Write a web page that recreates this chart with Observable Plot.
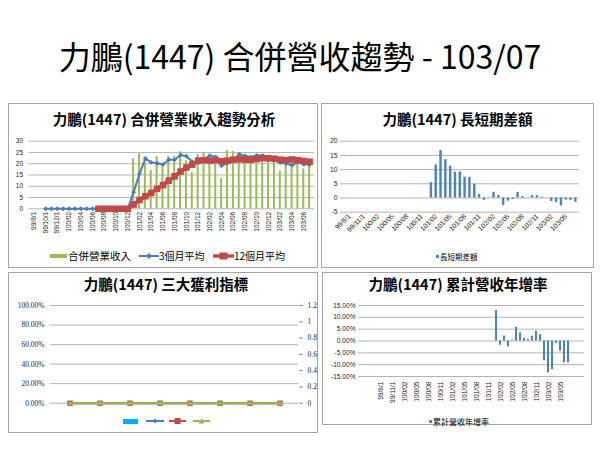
<!DOCTYPE html>
<html><head><meta charset="utf-8">
<script src="https://cdn.jsdelivr.net/npm/d3@7"></script>
<script src="https://cdn.jsdelivr.net/npm/@observablehq/plot@0.6"></script>
<style>
html,body{margin:0;padding:0;background:#fff;}
#page{position:relative;width:600px;height:450px;overflow:hidden;font-family:"Noto Sans CJK TC","Noto Sans",sans-serif;color:#000;}
.panel{position:absolute;border:1px solid #a6a6a6;box-sizing:border-box;}
.ttl{position:absolute;text-align:center;white-space:nowrap;line-height:1;}
.pt{font-size:14.5px;font-weight:bold;}
.lg{position:absolute;white-space:nowrap;line-height:1;}
.chart{position:absolute;}
</style></head><body><div id="page"></div>
<script>
// ---------- data ----------
const months = ["99/8/1","99/9/1","99/10/1","99/11/1","99/12/1",
  "100/01","100/02","100/03","100/04","100/05","100/06","100/07","100/08","100/09","100/10","100/11","100/12",
  "101/01","101/02","101/03","101/04","101/05","101/06","101/07","101/08","101/09","101/10","101/11","101/12",
  "102/01","102/02","102/03","102/04","102/05","102/06","102/07","102/08","102/09","102/10","102/11","102/12",
  "103/01","103/02","103/03","103/04","103/05","103/06","103/07"];
// 合併營業收入
const revenue = [0,0,0,0,0, 0,0,0,0,0,0,0,0,0,0,0,0,
  22.2,24.4,20.3,17.0,23.2,19.0,23.2,23.3,25.3,21.3,16.0,24.0,
  25.0,22.0,21.9,13.5,25.8,25.4,21.4,23.6,23.6,24.0,23.2,22.2,
  22.5,16.7,21.0,20.2,21.5,17.7,19.6];
// 3個月平均
const avg3 = [null,null,0,0,0, 0,0,0,0,0,0,0,0,0,0,0,0,
  7.4,15.5,22.3,20.6,20.2,19.7,21.8,21.8,23.9,23.3,20.9,20.4,
  21.7,23.7,23.0,19.1,20.4,21.6,24.2,23.5,22.9,23.7,23.6,23.1,
  22.6,20.5,20.1,19.3,20.9,19.8,19.6];
// 12個月平均
const avg12 = [null,null,null,null,null, null,null,null,null,null,null,0,0,0,0,0,0,
  1.9,3.9,5.6,7.0,8.9,10.5,12.5,14.4,16.5,18.3,19.6,21.4,
  21.6,21.4,21.6,21.1,21.4,21.8,22.0,21.8,21.8,22.1,22.5,22.4,
  22.2,21.8,21.6,21.9,21.6,21.2,20.9];
// 長短期差額
const spread = [null,null,null,null,null, null,null,null,null,null,null,null,null,null,null,null,null,
  5.4,11.6,16.7,13.5,11.2,9.1,9.2,7.3,7.3,4.9,1.2,-0.8,
  0.1,2.0,0.9,-2.6,-1.1,-0.5,2.0,0.5,0.0,0.8,0.8,0.3,
  0.0,-1.2,-1.6,-2.8,-0.7,-0.8,-1.5];
// 累計營收年增率 (%)
const yoy = [null,null,null,null,null, null,null,null,null,null,null,null,null,null,null,null,null,
  null,null,null,null,null,null,null,null,null,null,null,null,
  12.9,-1.8,2.1,-2.5,0.4,5.8,3.4,1.1,0.6,2.0,4.1,2.7,
  -8.4,-13.4,-12.1,-1.0,-4.3,-9.2,-9.2];
// 三大獲利指標
const quarters = ["Q1","Q2","Q3","Q4","Q5","Q6","Q7","Q8"];
const profitBar = [0,0,0,0,0,0,0,0];
const grossMargin = [0,0,0,0,0,0,0,0];
const opMargin = [0,0,0,0,0,0,0,0];
const netMargin = [0,0,0,0,0,0,0,0];

const p1YTicks = [0,5,10,15,20,25,30];
const p2YTicks = [-5,0,5,10,15,20];
const p3YTicks = [0,0.2,0.4,0.6,0.8,1];
const p3RightTicks = [0,0.2,0.4,0.6,0.8,1,1.2];
const p4YTicks = [-15,-10,-5,0,5,10,15];

const COL = {green:"#9BBB59", blue:"#4A7EBB", red:"#BE4B48", bar:"#4F81BD", cyan:"#00B0F0", green2:"#98B954"};
const tickFont = "'Liberation Sans', Arial, sans-serif";
const serifFont = "'Liberation Serif', 'Times New Roman', serif";

// ---------- helpers ----------
const page = document.getElementById("page");
function add(html) { page.insertAdjacentHTML("beforeend", html); }
function place(el, left, top) { el.classList.add("chart"); el.style.left = left + "px"; el.style.top = top + "px"; page.appendChild(el); }

// slide title
add(`<div class="ttl" style="left:0;top:39px;width:600px;font-size:32px;font-weight:400;">力鵬(1447) 合併營收趨勢 - 103/07</div>`);

// panels
add(`<div class="panel" style="left:8px;top:103px;width:310px;height:165px"></div>`);
add(`<div class="panel" style="left:321px;top:103px;width:273px;height:165px"></div>`);
add(`<div class="panel" style="left:8px;top:272px;width:310px;height:161px"></div>`);
add(`<div class="panel" style="left:322px;top:272px;width:270px;height:153px"></div>`);

add(`<div class="ttl pt" style="left:8px;top:112px;width:312px">力鵬(1447) 合併營業收入趨勢分析</div>`);
add(`<div class="ttl pt" style="left:321px;top:112px;width:273px">力鵬(1447) 長短期差額</div>`);
add(`<div class="ttl pt" style="left:8px;top:277px;width:316px">力鵬(1447) 三大獲利指標</div>`);
add(`<div class="ttl pt" style="left:322px;top:277px;width:272px">力鵬(1447) 累計營收年增率</div>`);

// ---------- panel 1 ----------
const rows1 = months.map((m, i) => ({month: m, revenue: revenue[i], avg3: avg3[i], avg12: avg12[i]}));
const p1 = Plot.plot({
  width: 310, height: 112,
  marginLeft: 20.5, marginRight: 4, marginTop: 10.7, marginBottom: 33.7,
  style: {fontFamily: tickFont, fontSize: "6.5px", color: "#262626", background: "none", overflow: "visible"},
  x: {type: "band", domain: months, padding: 0.66},
  y: {domain: [0, 30]},
  marks: [
    Plot.gridY(p1YTicks, {stroke: "#b5b5b5", strokeOpacity: 1}),
    Plot.axisY(p1YTicks, {tickSize: 0, tickPadding: 6, label: null}),
    Plot.axisX(months.filter((d, i) => i % 2 === 0), {tickSize: 0, tickPadding: 3, tickRotate: -90, label: null}),
    Plot.barY(rows1, {x: "month", y: "revenue", fill: COL.green}),
    Plot.line(rows1, {x: "month", y: "avg3", stroke: COL.blue, strokeWidth: 2}),
    Plot.dot(rows1, {x: "month", y: "avg3", symbol: "diamond2", r: 2.2, fill: COL.blue}),
    Plot.line(rows1, {x: "month", y: "avg12", stroke: COL.red, strokeWidth: 4}),
    Plot.dot(rows1, {x: "month", y: "avg12", symbol: "square2", r: 4.2, fill: COL.red})
  ]
});
place(p1, 8, 130);

add(`<div class="lg" style="left:50px;top:254px;width:17px;height:4px;background:${COL.green}"></div>`);
add(`<div class="lg" style="left:68px;top:250.5px;font-size:10.5px">合併營業收入</div>`);
add(`<svg class="lg" style="left:139px;top:252px" width="20" height="8"><line x1="0" y1="4" x2="20" y2="4" stroke="${COL.blue}" stroke-width="2"/><path d="M10 1L13 4L10 7L7 4Z" fill="${COL.blue}"/></svg>`);
add(`<div class="lg" style="left:159px;top:251px;font-size:10px">3個月平均</div>`);
add(`<svg class="lg" style="left:213px;top:252px" width="21" height="8"><line x1="0" y1="4" x2="21" y2="4" stroke="${COL.red}" stroke-width="3.5"/><rect x="6.5" y="0.5" width="8" height="7" fill="${COL.red}"/></svg>`);
add(`<div class="lg" style="left:234px;top:251px;font-size:10px">12個月平均</div>`);

// ---------- panel 2 ----------
const rows2 = months.map((m, i) => ({month: m, spread: spread[i]})).filter(d => d.spread != null);
const p2 = Plot.plot({
  width: 272, height: 100,
  marginLeft: 19, marginRight: 14, marginTop: 10.7, marginBottom: 18.3,
  style: {fontFamily: tickFont, fontSize: "6.8px", color: "#262626", background: "none", overflow: "visible"},
  x: {type: "band", domain: months, padding: 0.5, insetLeft: 5.4},
  y: {domain: [-5, 20]},
  marks: [
    Plot.gridY(p2YTicks, {stroke: "#b5b5b5", strokeOpacity: 1}),
    Plot.axisY(p2YTicks, {tickSize: 0, tickPadding: 3, tickFormat: d => String(d), label: null}),
    Plot.axisX(months.filter((d, i) => i % 3 === 0), {tickSize: 0, tickPadding: 3, tickRotate: -45, label: null}),
    Plot.barY(rows2, {x: "month", y: "spread", fill: COL.bar})
  ]
});
place(p2, 321, 130);
add(`<div class="lg" style="left:435.5px;top:255px;width:3px;height:3px;background:${COL.bar}"></div>`);
add(`<div class="lg" style="left:440px;top:252.5px;font-size:7.5px">長短期差額</div>`);

// ---------- panel 3 ----------
const rows3 = quarters.map((q, i) => ({q, bar: profitBar[i], gm: grossMargin[i], om: opMargin[i], nm: netMargin[i]}));
const p3 = Plot.plot({
  width: 310, height: 115,
  marginLeft: 42, marginRight: 20, marginTop: 10, marginBottom: 7.3,
  style: {fontFamily: serifFont, fontSize: "7.5px", color: "#262626", background: "none", overflow: "visible"},
  x: {type: "band", domain: quarters, axis: null},
  y: {domain: [0, 1]},
  marks: [
    Plot.gridY(p3YTicks, {stroke: "#b5b5b5", strokeOpacity: 1}),
    Plot.axisY(p3YTicks, {tickSize: 0, tickPadding: 6, tickFormat: d3.format(".2%"), label: null}),
    Plot.barY(rows3, {x: "q", y: "bar", fill: COL.cyan}),
    Plot.line(rows3, {x: "q", y: "gm", stroke: COL.blue, strokeWidth: 2}),
    Plot.dot(rows3, {x: "q", y: "gm", symbol: "diamond2", r: 2.2, fill: COL.blue}),
    Plot.line(rows3, {x: "q", y: "om", stroke: COL.red, strokeWidth: 2}),
    Plot.dot(rows3, {x: "q", y: "om", symbol: "square2", r: 3.4, fill: COL.red}),
    Plot.line(rows3, {x: "q", y: "nm", stroke: COL.green2, strokeWidth: 2}),
    Plot.dot(rows3, {x: "q", y: "nm", symbol: "triangle2", r: 2.8, fill: COL.green2})
  ]
});
place(p3, 8, 295);
const p3r = Plot.plot({
  width: 310, height: 115,
  marginLeft: 42, marginRight: 20, marginTop: 10, marginBottom: 7.3,
  style: {fontFamily: serifFont, fontSize: "7.5px", color: "#262626", background: "none", overflow: "visible"},
  y: {domain: [0, 1.2]},
  marks: [
    Plot.axisY(p3RightTicks, {anchor: "right", tickSize: 4, tickPadding: 5, tickFormat: d => String(d), label: null, stroke: "#8c8c8c"})
  ]
});
place(p3r, 8, 295);
add(`<div class="lg" style="left:123px;top:419px;width:15px;height:4.5px;background:${COL.cyan}"></div>`);
add(`<svg class="lg" style="left:145.5px;top:417px" width="18" height="8"><line x1="0" y1="4" x2="18" y2="4" stroke="${COL.blue}" stroke-width="2"/><path d="M9 1.5L11.5 4L9 6.5L6.5 4Z" fill="${COL.blue}"/></svg>`);
add(`<svg class="lg" style="left:169px;top:417px" width="17" height="8"><line x1="0" y1="4" x2="17" y2="4" stroke="${COL.red}" stroke-width="2"/><rect x="5.5" y="1" width="6" height="6" fill="${COL.red}"/></svg>`);
add(`<svg class="lg" style="left:192.5px;top:417px" width="17" height="8"><line x1="0" y1="4" x2="17" y2="4" stroke="${COL.green2}" stroke-width="2"/><path d="M8.5 1L11.5 6.5L5.5 6.5Z" fill="${COL.green2}"/></svg>`);

// ---------- panel 4 ----------
const rows4 = months.map((m, i) => ({month: m, yoy: yoy[i]})).filter(d => d.yoy != null);
const p4 = Plot.plot({
  width: 268, height: 110,
  marginLeft: 35, marginRight: 7, marginTop: 10, marginBottom: 29,
  style: {fontFamily: tickFont, fontSize: "6.6px", color: "#262626", background: "none", overflow: "visible"},
  x: {type: "band", domain: months, padding: 0.42, insetLeft: 5.6},
  y: {domain: [-15, 15]},
  marks: [
    Plot.gridY(p4YTicks, {stroke: "#b5b5b5", strokeOpacity: 1}),
    Plot.axisY(p4YTicks, {tickSize: 0, tickPadding: 3, tickFormat: d => d.toFixed(2) + "%", label: null}),
    Plot.axisX(months.filter((d, i) => i % 3 === 0), {tickSize: 0, tickPadding: 5, tickRotate: -90, label: null}),
    Plot.barY(rows4, {x: "month", y: "yoy", fill: COL.bar})
  ]
});
place(p4, 323, 295);
add(`<div class="lg" style="left:428.5px;top:420px;width:3px;height:3px;background:${COL.bar}"></div>`);
add(`<div class="lg" style="left:433px;top:417.5px;font-size:8px">累計營收年增率</div>`);
</script>
</body></html>
